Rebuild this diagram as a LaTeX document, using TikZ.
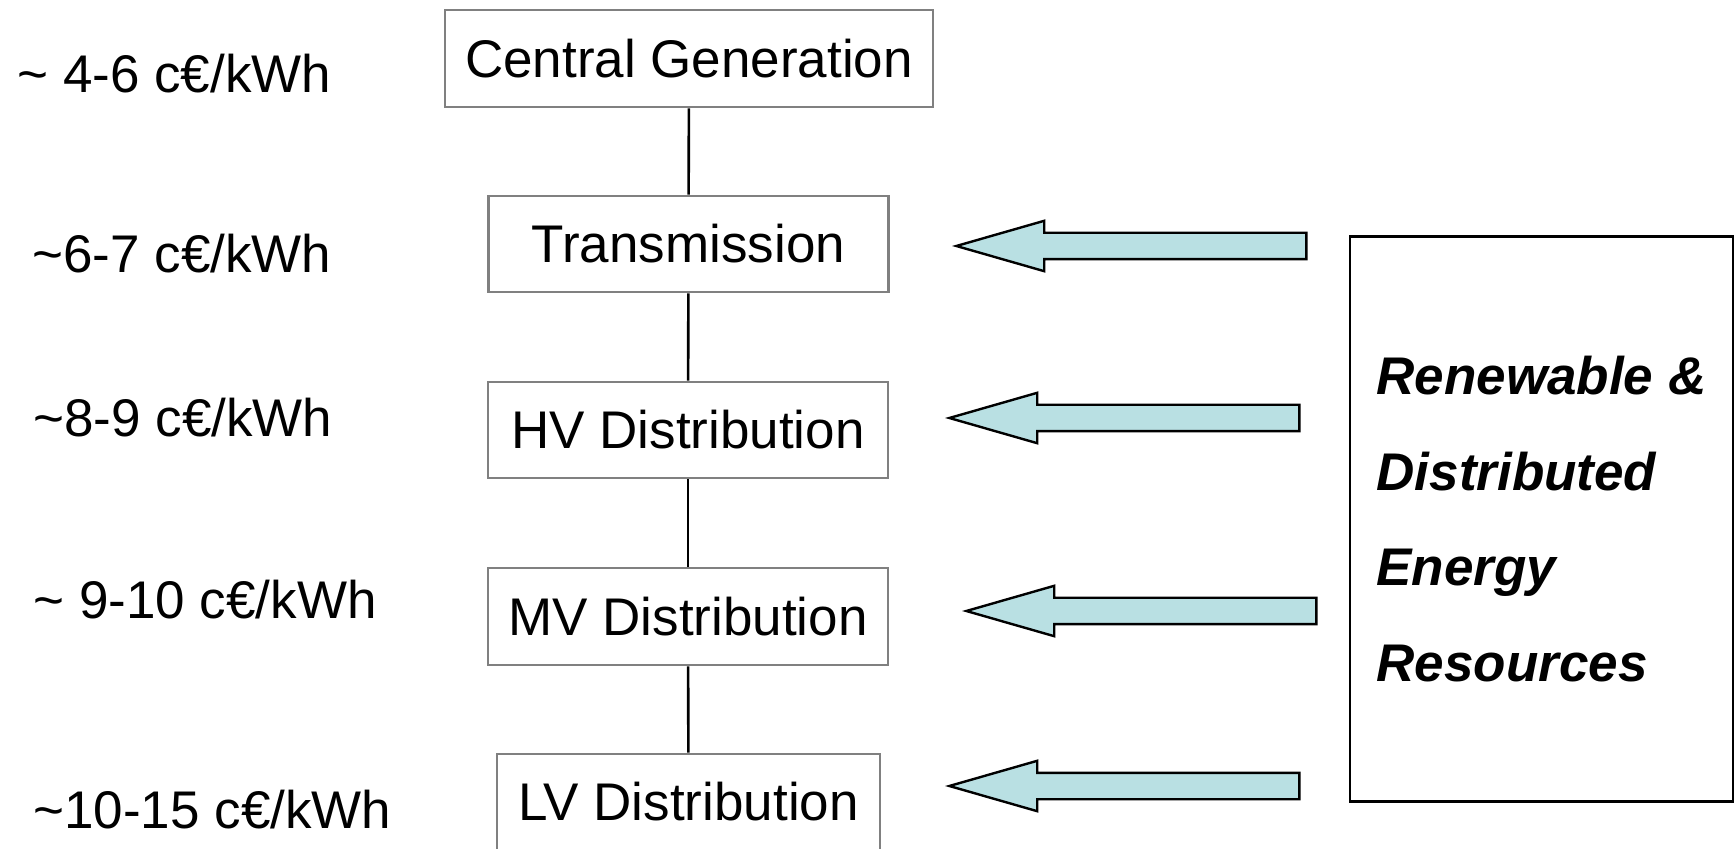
\documentclass[tikz,border=0pt]{standalone}
\usepackage{fontspec}
\setmainfont{Liberation Sans}
\usepackage{xcolor}
\usepackage{tikz}
\usetikzlibrary{shapes.arrows, positioning, calc}
\definecolor{boxgray}{RGB}{128,128,128}
\definecolor{arrowcyan}{RGB}{185,224,227}
\tikzset{
    stagebox/.style={
        draw=boxgray, line width=1.4pt, fill=white, inner sep=0pt, anchor=center
    },
    pricelabel/.style={
        inner sep=0pt, anchor=base west
    },
    derbox/.style={
        draw=black, line width=1.1pt, align=left, inner sep=0pt,
        font=\fontsize{26.5}{47.75}\selectfont\bfseries\itshape
    },
    derarrow/.style={
        single arrow, shape border rotate=180, draw=black, line width=1.2pt,
        fill=arrowcyan, inner xsep=0pt, inner ysep=6pt, minimum height=175pt,
        minimum width=24pt, single arrow head extend=6pt, single arrow tip angle=32,
        anchor=tip
    },
    busline/.style={
        draw, line width=1.3pt, black
    }
}
\begin{document}
\begin{tikzpicture}[x=0.5pt, y=-0.5pt, font=\fontsize{26.5}{31.8}\selectfont]
    \useasboundingbox (0,0) rectangle (1735,849);

    % supply chain boxes
    \node[stagebox, minimum width=244pt, minimum height=48.5pt] (cg) at (689,58.5) {Central Generation};
    \node[stagebox, minimum width=200pt, minimum height=48pt] (tr) at (688.5,244) {Transmission};
    \node[stagebox, minimum width=200pt, minimum height=48pt] (hv) at (688,430) {HV Distribution};
    \node[stagebox, minimum width=200pt, minimum height=48.5pt] (mv) at (688,616.5) {MV Distribution};
    \node[stagebox, minimum width=191.5pt, minimum height=48pt] (lv) at (688.5,802) {LV Distribution};

    % vertical link between the levels
    \draw[busline] (cg) -- (tr);
    \draw[busline] (tr) -- (hv);
    \draw[busline] (hv) -- (mv);
    \draw[busline] (mv) -- (lv);

    % cost per level
    \node[pricelabel] (p1) at (17,93) {\textasciitilde{} 4-6 c€/kWh};
    \node[pricelabel] (p2) at (32,273) {\textasciitilde{}6-7 c€/kWh};
    \node[pricelabel] (p3) at (33,437) {\textasciitilde{}8-9 c€/kWh};
    \node[pricelabel] (p4) at (33,618) {\textasciitilde{} 9-10 c€/kWh};
    \node[pricelabel] (p5) at (33,828) {\textasciitilde{}10-15 c€/kWh};

    % DER block on the right
    \node[derbox, minimum width=191.5pt, minimum height=282.5pt] (der) at (1541.5,519)
        {Renewable \&\\Distributed\\Energy\\Resources};

    % feed-in arrows
    \node[derarrow] (a1) at (952,246) {};
    \node[derarrow] (a2) at (945,418) {};
    \node[derarrow] (a3) at (962,611) {};
    \node[derarrow] (a4) at (945,786) {};

\end{tikzpicture}
\end{document}
